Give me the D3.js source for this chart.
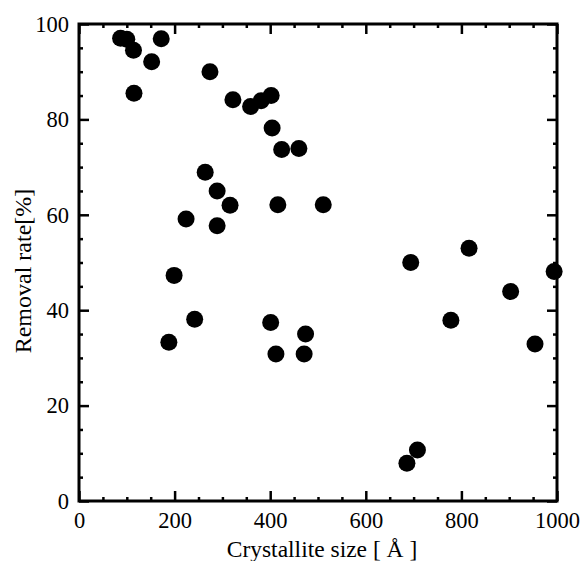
<!DOCTYPE html>
<html>
<head>
<meta charset="utf-8">
<script src="https://cdn.jsdelivr.net/npm/d3@7"></script>
</head>
<body style="margin:0">
<svg id="chart" width="581" height="561" style="display:block"></svg>
<script>
// Data
const crystalliteSize = [87, 100, 114, 152, 172, 115, 274, 322, 359, 381, 402, 404, 424,
  264, 289, 316, 416, 224, 289, 199, 460, 511, 694, 816, 994, 242, 188, 401, 412, 474,
  471, 778, 903, 954, 708, 686];
const removalRate = [97.0, 96.8, 94.5, 92.1, 96.9, 85.5, 90.0, 84.1, 82.7, 83.9, 85.0, 78.2, 73.7,
  68.9, 65.0, 62.0, 62.1, 59.1, 57.7, 47.3, 73.9, 62.1, 50.0, 53.0, 48.1, 38.1, 33.3, 37.4, 30.8, 35.0,
  30.8, 37.9, 43.9, 32.9, 10.7, 7.9];
const xTicks = [0, 200, 400, 600, 800, 1000];
const yTicks = [0, 20, 40, 60, 80, 100];
const xLabel = "Crystallite size [ Å ]";
const yLabel = "Removal rate[%]";

(function () {
const FONT = "Liberation Serif";
const svg = d3.select("#chart");
const mL = 79, mR = 557, mT = 24, mB = 501;

const x = d3.scaleLinear().domain([0, 1000]).range([mL, mR]);
const y = d3.scaleLinear().domain([0, 100]).range([mB, mT]);

const xMinor = d3.range(0, 1001, 50).filter(v => v % 200 !== 0);
const yMinor = d3.range(0, 101, 5).filter(v => v % 20 !== 0);

const gB = svg.append("g").attr("transform", `translate(0,${mB})`);
gB.call(d3.axisBottom(x).tickValues(xTicks).tickSize(-10).tickPadding(11).tickFormat(d3.format("d")));
gB.append("g").call(d3.axisBottom(x).tickValues(xMinor).tickSize(-4).tickFormat(""));
const gT = svg.append("g").attr("transform", `translate(0,${mT})`);
gT.call(d3.axisTop(x).tickValues(xTicks).tickSize(-10).tickFormat(""));
gT.append("g").call(d3.axisTop(x).tickValues(xMinor).tickSize(-4).tickFormat(""));
const gL = svg.append("g").attr("transform", `translate(${mL},0)`);
gL.call(d3.axisLeft(y).tickValues(yTicks).tickSize(-10).tickPadding(10).tickFormat(d3.format("d")));
gL.append("g").call(d3.axisLeft(y).tickValues(yMinor).tickSize(-4).tickFormat(""));
const gR = svg.append("g").attr("transform", `translate(${mR},0)`);
gR.call(d3.axisRight(y).tickValues(yTicks).tickSize(-10).tickFormat(""));
gR.append("g").call(d3.axisRight(y).tickValues(yMinor).tickSize(-4).tickFormat(""));

[gB, gT, gL, gR].forEach(g => g.attr("font-family", FONT).attr("font-size", 22.5));
svg.selectAll(".domain").remove();
svg.selectAll(".tick line").attr("stroke", "#000").attr("stroke-width", 2.5);
svg.selectAll(".tick text")
  .attr("font-family", FONT).attr("font-size", 22.5)
  .style("font-family", FONT, "important").style("font-size", "22.5px", "important")
  .attr("fill", "#000");

svg.append("rect")
  .attr("x", mL).attr("y", mT)
  .attr("width", mR - mL).attr("height", mB - mT)
  .attr("fill", "none").attr("stroke", "#000").attr("stroke-width", 3);

svg.append("g").selectAll("circle")
  .data(crystalliteSize.map((d, i) => [d, removalRate[i]]))
  .join("circle")
  .attr("cx", d => x(d[0]))
  .attr("cy", d => y(d[1]))
  .attr("r", 8.5)
  .attr("fill", "#000");

svg.append("text")
  .attr("x", 322).attr("y", 556.5)
  .attr("text-anchor", "middle")
  .attr("font-family", FONT).attr("font-size", 23.5)
  .style("font-family", FONT, "important").style("font-size", "23.5px", "important")
  .text(xLabel);
svg.append("text")
  .attr("transform", `translate(31,271) rotate(-90)`)
  .attr("text-anchor", "middle")
  .attr("font-family", FONT).attr("font-size", 24)
  .style("font-family", FONT, "important").style("font-size", "24px", "important")
  .text(yLabel);
})();
</script>
</body>
</html>
